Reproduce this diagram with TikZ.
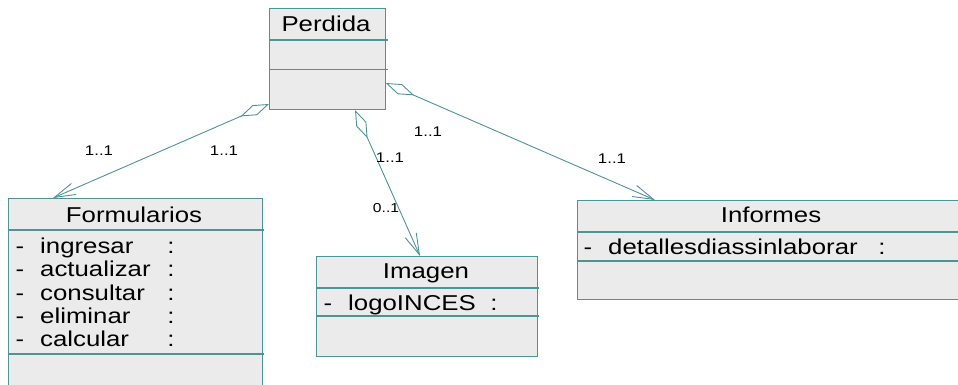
\documentclass[tikz,border=0pt]{standalone}
\usepackage{fontspec}
\setmainfont{Liberation Sans}[FakeStretch=1.2]
\usetikzlibrary{arrows.meta}
\definecolor{umlline}{RGB}{78,148,148}
\definecolor{umlfill}{RGB}{235,235,235}
\begin{document}
\begin{tikzpicture}[x=1pt,y=-1pt,
  classbox/.style={draw=umlline, fill=umlfill, line width=1.1pt, rectangle, inner sep=0pt, anchor=north west},
  divider/.style={draw=umlline, line width=1.1pt},
  title/.style={font=\fontsize{21.5}{24}\selectfont, anchor=base, inner sep=0pt},
  attr/.style={font=\fontsize{21.5}{24}\selectfont, anchor=base west, inner sep=0pt},
  sym/.style={font=\fontsize{21.5}{24}\selectfont, anchor=base, inner sep=0pt},
  mult/.style={font=\fontsize{14}{16}\selectfont, anchor=base, inner sep=0pt},
  multsmall/.style={font=\fontsize{13}{15}\selectfont, anchor=base, inner sep=0pt},
  assoc/.style={draw=umlline, line width=0.9pt,
    {Diamond[open,length=31pt,width=11pt]}-{Straight Barb[length=21pt,width=12pt]}}]
\useasboundingbox (0,0) rectangle (958,385);

% Perdida
\node[classbox, minimum width=116pt, minimum height=101pt] (perdida) at (269,8) {};
\draw[divider] (269,40) -- (388,40);
\draw[divider] (269,69.5) -- (388,69.5);
\node[title] (tperdida) at (326,32) {Perdida};

% Formularios
\node[classbox, minimum width=254pt, minimum height=200pt] (form) at (8,198) {};
\draw[divider] (8,230) -- (264,230);
\draw[divider] (8,354) -- (264,354);
\node[title] (tform) at (134,222) {Formularios};
\node[sym] (fd1) at (20,253.3) {-};
\node[attr] (fa1) at (40,253.3) {ingresar};
\node[sym] (fc1) at (171,253.3) {:};
\node[sym] (fd2) at (20,276.7) {-};
\node[attr] (fa2) at (40,276.7) {actualizar};
\node[sym] (fc2) at (171,276.7) {:};
\node[sym] (fd3) at (20,300) {-};
\node[attr] (fa3) at (40,300) {consultar};
\node[sym] (fc3) at (171,300) {:};
\node[sym] (fd4) at (20,323.3) {-};
\node[attr] (fa4) at (40,323.3) {eliminar};
\node[sym] (fc4) at (171,323.3) {:};
\node[sym] (fd5) at (20,346.7) {-};
\node[attr] (fa5) at (40,346.7) {calcular};
\node[sym] (fc5) at (171,346.7) {:};

% Imagen
\node[classbox, minimum width=221pt, minimum height=100pt] (imagen) at (316,256) {};
\draw[divider] (316,288) -- (539,288);
\draw[divider] (316,316) -- (539,316);
\node[title] (timagen) at (426,278) {Imagen};
\node[sym] (id1) at (328,310) {-};
\node[attr] (ia1) at (348,310) {logoINCES};
\node[sym] (ic1) at (494,310) {:};

% Informes
\node[classbox, minimum width=400pt, minimum height=99pt] (informes) at (577,200) {};
\draw[divider] (577,232) -- (977,232);
\draw[divider] (577,261) -- (977,261);
\node[title] (tinformes) at (771,222) {Informes};
\node[sym] (nd1) at (588,254) {-};
\node[attr] (na1) at (608,254) {detallesdiassinlaborar};
\node[sym] (nc1) at (882,254) {:};

% connector end points
\coordinate (pA) at (269,104);
\coordinate (tA) at (53,198);
\coordinate (pB) at (355,110);
\coordinate (tB) at (420,256);
\coordinate (pC) at (385.7,83);
\coordinate (tC) at (655,200);

\draw[assoc] (pA) -- (tA);
\draw[assoc] (pB) -- (tB);
\draw[assoc] (pC) -- (tC);

% multiplicities
\node[mult] (m1) at (99,156) {1..1};
\node[mult] (m2) at (224,156) {1..1};
\node[mult] (m3) at (428,136) {1..1};
\node[mult] (m4) at (390,162) {1..1};
\node[mult] (m5) at (612,164) {1..1};
\node[multsmall] (m6) at (386,212) {0..1};
\end{tikzpicture}
\end{document}
